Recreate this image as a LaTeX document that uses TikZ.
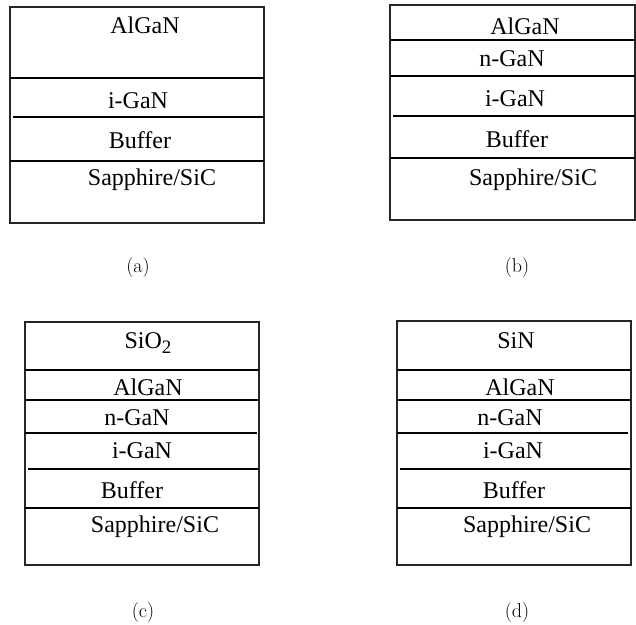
\documentclass[tikz,border=0pt]{standalone}
\usepackage{fontspec}
\newfontfamily\layerfont{Liberation Serif}
\begin{document}
\begin{tikzpicture}[x=1pt,y=-1pt,
  wall/.style={draw=black!85,line width=1.4pt},
  heavyrule/.style={draw=black,line width=2.4pt},
  midrule/.style={draw=black,line width=1.9pt},
  lightrule/.style={draw=black,line width=1.3pt},
  lbl/.style={anchor=base,inner sep=0pt,font=\layerfont\fontsize{24}{28}\selectfont},
  subcap/.style={inner sep=0pt,font=\rmfamily\fontsize{20}{24}\selectfont}]
\useasboundingbox (0,0) rectangle (636,624);

% ---- (a) AlGaN / i-GaN / Buffer / substrate
\draw[wall] (10,7) rectangle (264,223);
\draw[heavyrule] (10,78) -- (264,78);
\draw[lightrule] (13,117) -- (264,117);
\draw[heavyrule] (10,161) -- (264,161);
\node[lbl] (a1) at (145,33) {AlGaN};
\node[lbl] (a2) at (138,108) {i-GaN};
\node[lbl] (a3) at (140,148) {Buffer};
\node[lbl] (a4) at (152,185) {Sapphire/SiC};
\node[subcap] (ca) at (138,268) {(a)};

% ---- (b) with n-GaN layer
\draw[wall] (390,5) rectangle (635,220);
\draw[midrule] (390,40) -- (635,40);
\draw[midrule] (390,76) -- (635,76);
\draw[lightrule] (393,116) -- (635,116);
\draw[heavyrule] (390,158) -- (635,158);
\node[lbl] (b1) at (525,34) {AlGaN};
\node[lbl] (b2) at (512,66) {n-GaN};
\node[lbl] (b3) at (515,106) {i-GaN};
\node[lbl] (b4) at (517,147) {Buffer};
\node[lbl] (b5) at (533,185) {Sapphire/SiC};
\node[subcap] (cb) at (517,268) {(b)};

% ---- (c) SiO2 passivation
\draw[wall] (25,322) rectangle (259,565);
\draw[midrule] (25,370) -- (259,370);
\draw[lightrule] (25,400) -- (259,400);
\draw[midrule] (25,433) -- (257,433);
\draw[heavyrule] (28,469) -- (259,469);
\draw[midrule] (25,508) -- (259,508);
\node[lbl] (c1) at (148,348) {SiO\raisebox{-5pt}{\fontsize{19}{20}\selectfont 2}};
\node[lbl] (c2) at (148,395) {AlGaN};
\node[lbl] (c3) at (137,425) {n-GaN};
\node[lbl] (c4) at (142,458) {i-GaN};
\node[lbl] (c5) at (132,498) {Buffer};
\node[lbl] (c6) at (155,532) {Sapphire/SiC};
\node[subcap] (cc) at (143,612) {(c)};

% ---- (d) SiN passivation
\draw[wall] (397,321) rectangle (631,565);
\draw[midrule] (397,370) -- (631,370);
\draw[lightrule] (397,400) -- (631,400);
\draw[midrule] (397,433) -- (628,433);
\draw[heavyrule] (400,469) -- (631,469);
\draw[midrule] (397,508) -- (631,508);
\node[lbl] (d1) at (516,348) {SiN};
\node[lbl] (d2) at (520,395) {AlGaN};
\node[lbl] (d3) at (510,425) {n-GaN};
\node[lbl] (d4) at (513,458) {i-GaN};
\node[lbl] (d5) at (514,498) {Buffer};
\node[lbl] (d6) at (527,532) {Sapphire/SiC};
\node[subcap] (cd) at (517,612) {(d)};
\end{tikzpicture}
\end{document}
